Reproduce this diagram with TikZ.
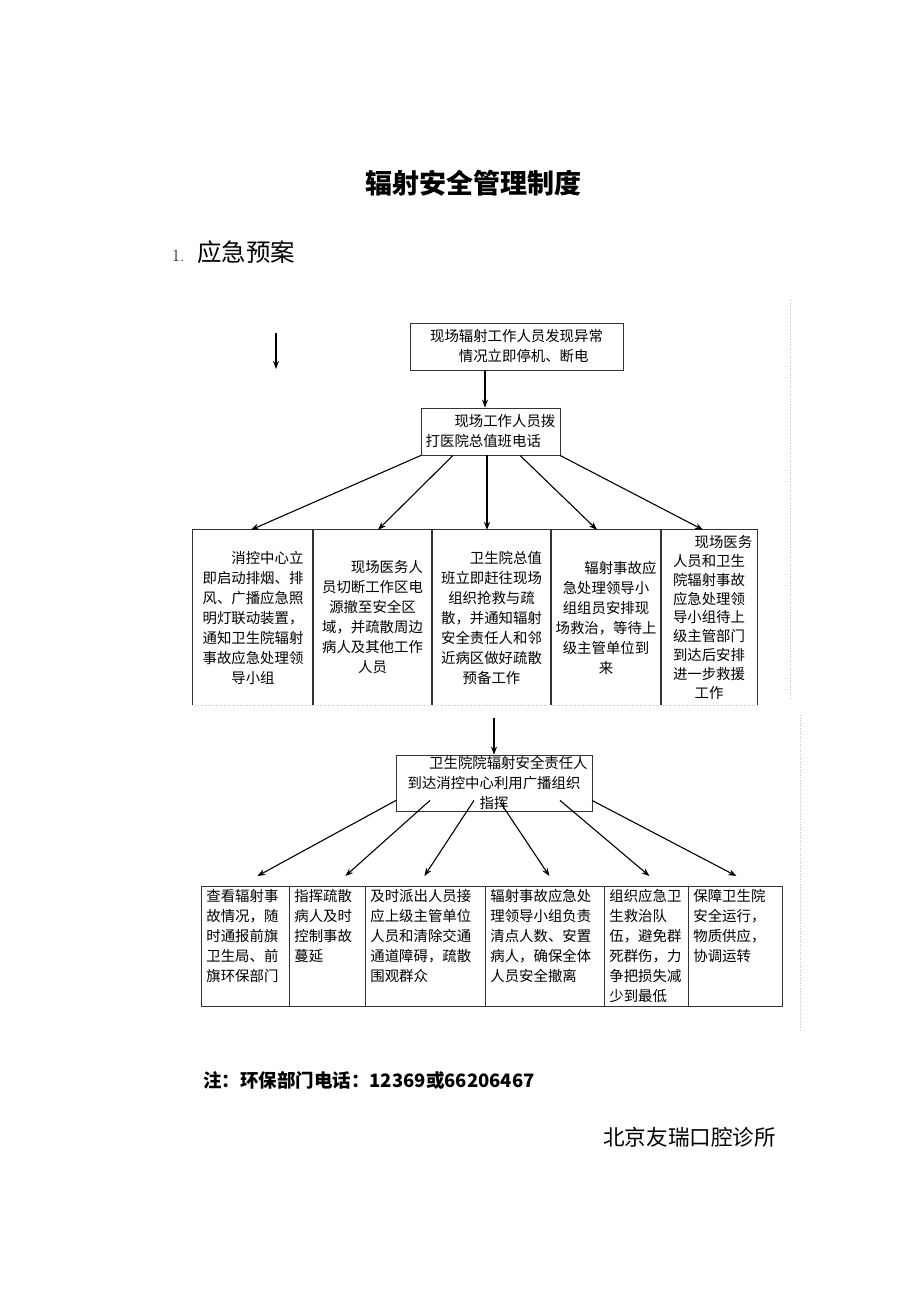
\documentclass[tikz,border=0pt]{standalone}
\usepackage{fontspec}
\newfontfamily\cjk{Noto Sans CJK SC}
\usetikzlibrary{arrows.meta}

\tikzset{
  >={Stealth[length=8pt,width=6pt]},
  boxtext/.style={font=\cjk\fontsize{14.4}{20}\selectfont, text=black},
  topbox/.style={boxtext, draw=black!80, line width=0.8pt, align=left, inner sep=0pt, minimum width=#1, minimum height=47},
  midbox/.style={boxtext, align=center, inner sep=0pt, minimum width=#1, minimum height=175},
  lowbox/.style={boxtext, draw=black!80, line width=0.8pt, anchor=north west, align=left,
    inner xsep=5pt, inner ysep=4pt, text width=\dimexpr#1pt-10pt\relax, text height=11.5pt, text depth=100.5pt},
  rim/.style={draw=black!80, line width=0.8pt},
  fan/.style={->, line width=1.1pt},
  drop/.style={->, line width=1.8pt},
  faint/.style={gray!45, dotted, line width=0.6pt}
}

\begin{document}
\begin{tikzpicture}[x=1pt, y=-1pt]
  \useasboundingbox (0,0) rectangle (920,1302);
  % Headings
  \node (title) [font=\cjk\bfseries\fontsize{27}{27}\selectfont] at (473,183) {辐射安全管理制度};
  \node (head) [anchor=west, inner sep=0pt] at (172,252) {{\fontsize{17}{17}\selectfont 1.}\hspace{13pt}{\cjk\fontsize{24.5}{24.5}\selectfont 应急预案}};
  % Nodes
  \node (A) [topbox=213] at (516.5,346.5) {现场辐射工作人员发现异常\\\hspace*{2em}情况立即停机、断电};
  \node (B) [topbox=139] at (490.5,431.5) {\hspace*{2em}现场工作人员拨\\打医院总值班电话};
  \node (m1) [midbox=120] at (253,617.5) {\hspace*{2em}消控中心立\\即启动排烟、排\\风、广播应急照\\明灯联动装置，\\通知卫生院辐射\\事故应急处理领\\导小组};
  \node (m2) [midbox=119] at (372.5,617.5) {\hspace*{2em}现场医务人\\员切断工作区电\\源撤至安全区\\域，并疏散周边\\病人及其他工作\\人员};
  \node (m3) [midbox=119] at (491.5,617.5) {\hspace*{2em}卫生院总值\\班立即赶往现场\\组织抢救与疏\\散，并通知辐射\\安全责任人和邻\\近病区做好疏散\\预备工作};
  \node (m4) [midbox=110] at (606,617.5) {\hspace*{2em}辐射事故应\\急处理领导小\\组组员安排现\\场救治，等待上\\级主管单位到\\来};
  \node (m5) [midbox=96, font=\cjk\fontsize{14.4}{18.8}\selectfont] at (709,617.5) {\hspace*{2em}现场医务\\人员和卫生\\院辐射事故\\应急处理领\\导小组待上\\级主管部门\\到达后安排\\进一步救援\\工作};
  \node (C) [topbox=196, minimum height=56, align=center] at (494,783) {\hspace*{2em}卫生院院辐射安全责任人\\到达消控中心利用广播组织\\指挥};
  \node (l1) [lowbox=88] at (201,886) {查看辐射事\\故情况，随\\时通报前旗\\卫生局、前\\旗环保部门};
  \node (l2) [lowbox=76] at (289,886) {指挥疏散\\病人及时\\控制事故\\蔓延};
  \node (l3) [lowbox=120] at (365,886) {及时派出人员接\\应上级主管单位\\人员和清除交通\\通道障碍，疏散\\围观群众};
  \node (l4) [lowbox=119] at (485,886) {辐射事故应急处\\理领导小组负责\\清点人数、安置\\病人，确保全体\\人员安全撤离};
  \node (l5) [lowbox=84] at (604,886) {组织应急卫\\生救治队\\伍，避免群\\死群伤，力\\争把损失减\\少到最低};
  \node (l6) [lowbox=94] at (688,886) {保障卫生院\\安全运行，\\物质供应，\\协调运转};
  \node (note) [anchor=west, inner sep=0pt, font=\cjk\bfseries\fontsize{18.5}{18.5}\selectfont] at (203,1080) {注：环保部门电话：12369或66206467};
  \node (sign) [anchor=west, inner sep=0pt, font=\cjk\fontsize{21.6}{21.6}\selectfont] at (603,1137) {北京友瑞口腔诊所};
  \coordinate (l0) at (276,333);
  \coordinate (l0e) at (276,369);
  \coordinate (c0) at (494,718);
  % Box rims
  \foreach \b in {m1,m2,m3,m4,m5}
    \draw[rim] (\b.south west) -- (\b.north west) -- (\b.north east) -- (\b.south east);
  \draw[faint] (m1.south west) -- (m5.south east);
  \draw[faint] (790,300) -- (790,700);
  \draw[faint] (800,715) -- (800,1030);
  % Arrows
  \draw[drop] (l0) -- (l0e);
  \draw[drop] ([xshift=-5.5pt]B.north |- A.south) -- ([xshift=-5.5pt]B.north);
  \foreach \dx/\t/\tx in {-69.5/m1/-2, -37.5/m2/5.5, -3.5/m3/-4.5, 29.5/m4/-9, 69.5/m5/-6}
    \draw[fan] ([xshift=\dx pt]B.south) -- ([xshift=\tx pt]\t.north);
  \draw[drop] (c0) -- (C.north);
  \foreach \dx/\dy/\t/\tx in {-98/11/l1/12, -64/11/l2/18, -20/11/l3/-1, 7/8/l4/4.5, 66/11/l5/3, 98/11/l6/1}
    \draw[fan] ([xshift=\dx pt, yshift=\dy pt]C.south) -- ([xshift=\tx pt, yshift=10pt]\t.north);
\end{tikzpicture}
\end{document}
